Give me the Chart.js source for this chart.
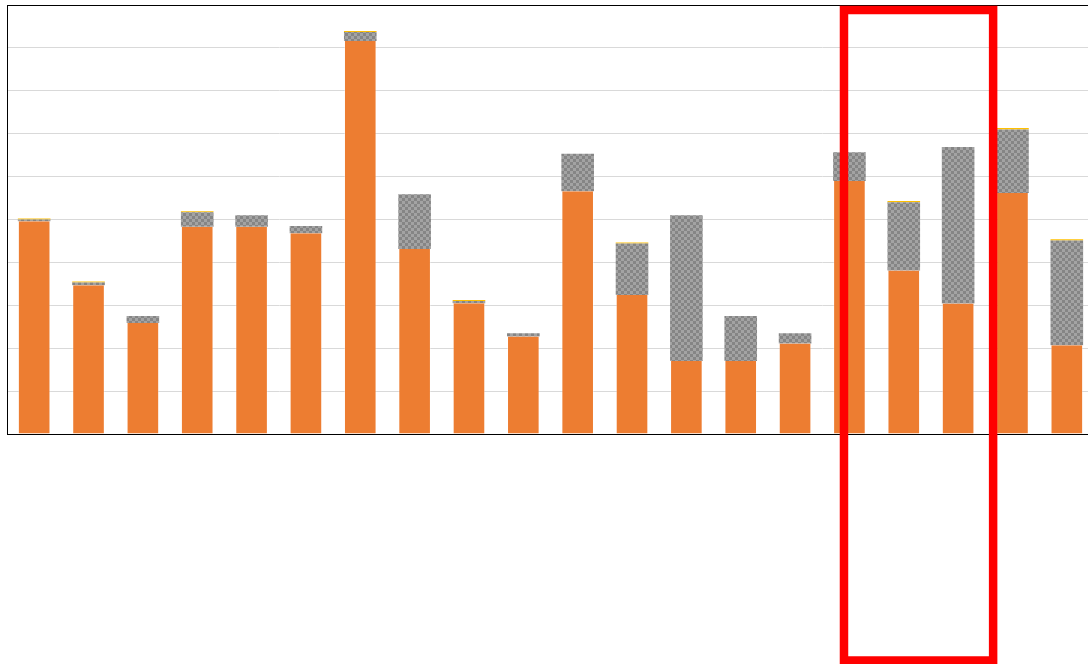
<!DOCTYPE html>
<html>
<head>
<meta charset="utf-8">
<script src="https://cdn.jsdelivr.net/npm/chart.js@4/dist/chart.umd.min.js"></script>
<style>
    html, body { margin: 0; padding: 0; background: #fff; overflow: hidden; }
    #wrap { position: relative; width: 1100px; height: 664px; }
</style>
</head>
<body>
<div id="wrap"><canvas id="chart"></canvas></div>
<script>
// 20 categories, no labels visible in the picture
const categorias = ['1', '2', '3', '4', '5', '6', '7', '8', '9', '10',
                    '11', '12', '13', '14', '15', '16', '17', '18', '19', '20'];
const valoresNaranja = [49.6, 34.7, 25.9, 48.3, 48.3, 46.8, 91.6, 43.1, 30.5, 22.7,
                        56.6, 32.4, 17.0, 17.0, 21.1, 59.0, 38.1, 30.4, 56.2, 20.7];
const valoresGris = [0.4, 0.6, 1.6, 3.4, 2.7, 1.7, 2.1, 12.8, 0.5, 0.8,
                     8.7, 12.0, 34.0, 10.5, 2.4, 6.7, 15.9, 36.5, 14.8, 24.4];
const valoresAmarillo = [0.25, 0.25, 0, 0.25, 0, 0, 0.25, 0, 0.25, 0,
                         0, 0.25, 0, 0, 0, 0, 0.3, 0, 0.3, 0.3];
const marcaInicio = 15; // first highlighted category (0-based)
const marcaFin = 17;    // last highlighted category

// patron de cuadros grises
function crearPatron() {
    const c = document.createElement('canvas');
    c.width = 6;
    c.height = 6;
    const g = c.getContext('2d');
    g.fillStyle = '#a3a3a3';
    g.fillRect(0, 0, 6, 6);
    g.fillStyle = '#858585';
    g.fillRect(0, 0, 3, 3);
    g.fillRect(3, 3, 3, 3);
    return g.createPattern(c, 'repeat');
}

const marcoPlugin = {
    id: 'marco',
    afterDatasetsDraw(chart) {
        const { ctx, chartArea } = chart;
        ctx.save();
        ctx.strokeStyle = '#000';
        ctx.lineWidth = 1;
        ctx.strokeRect(chartArea.left + 0.5, chartArea.top + 0.5, chartArea.right - chartArea.left, chartArea.bottom - chartArea.top);
        ctx.restore();
    },
    afterDraw(chart) {
        // recuadro rojo sobre las categorias marcadas
        const { ctx, chartArea, scales } = chart;
        const ancho = scales.x.width / categorias.length;
        const izq = scales.x.getPixelForValue(marcaInicio) - 0.1 * ancho;
        const der = scales.x.getPixelForValue(marcaFin) + 0.644 * ancho;
        const arriba = chartArea.top + 5;
        const abajo = chart.height - 3.5;
        ctx.save();
        ctx.strokeStyle = '#ff0000';
        ctx.lineWidth = 8.5;
        ctx.strokeRect(izq, arriba, der - izq, abajo - arriba);
        ctx.restore();
    }
};

document.addEventListener('DOMContentLoaded', () => {
    const ctx = document.getElementById('chart').getContext('2d');
    new Chart(ctx, {
        type: 'bar',
        data: {
            labels: categorias,
            datasets: [
                {
                    label: 'A',
                    data: valoresNaranja,
                    backgroundColor: '#ed7d31',
                    borderColor: 'rgba(255,255,255,0.35)',
                    borderWidth: { left: 1, right: 1 },
                    borderSkipped: false
                },
                {
                    label: 'B',
                    data: valoresGris,
                    backgroundColor: crearPatron(),
                    borderWidth: 0
                },
                {
                    label: 'C',
                    data: valoresAmarillo,
                    backgroundColor: '#ffc000',
                    borderWidth: 0
                }
            ]
        },
        options: {
            responsive: true,
            maintainAspectRatio: false,
            animation: false,
            layout: { padding: { top: 5, left: 7, right: 6, bottom: 230 } },
            datasets: {
                bar: { categoryPercentage: 0.6, barPercentage: 1 }
            },
            scales: {
                x: {
                    stacked: true,
                    ticks: { display: false },
                    grid: { display: false, drawTicks: false },
                    border: { display: true, color: '#000', width: 1 }
                },
                y: {
                    stacked: true,
                    min: 0,
                    max: 100,
                    ticks: { display: false, stepSize: 10 },
                    grid: { color: '#d9d9d9', lineWidth: 1, drawTicks: false },
                    border: { display: true, color: '#000', width: 1 }
                }
            },
            plugins: {
                legend: { display: false },
                tooltip: { enabled: false }
            }
        },
        plugins: [marcoPlugin]
    });
});
</script>
</body>
</html>
